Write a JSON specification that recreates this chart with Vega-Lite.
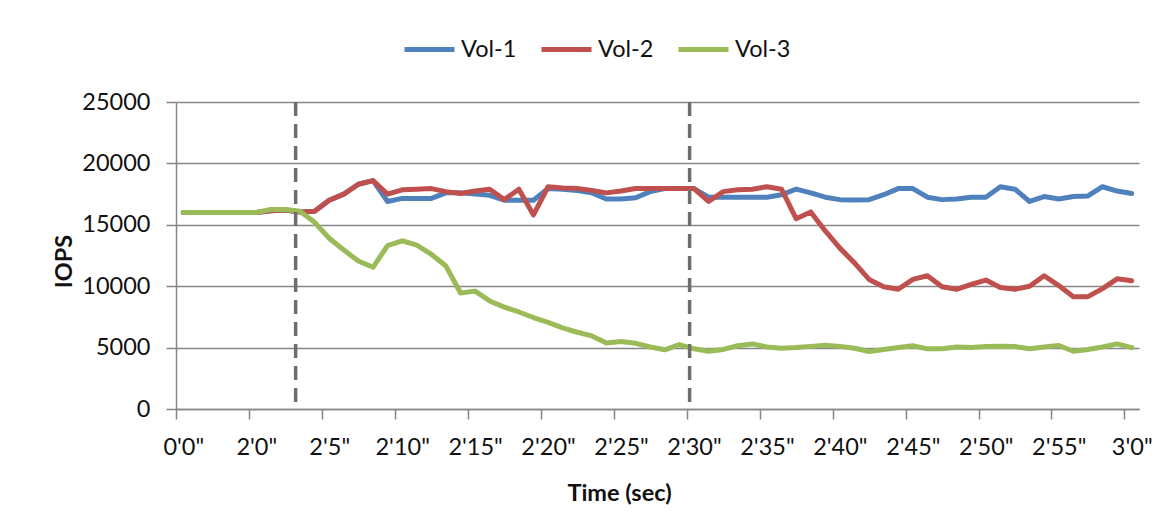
{
  "$schema": "https://vega.github.io/schema/vega-lite/v6.json",
  "autosize": {"type": "none"},
  "width": 963,
  "height": 307,
  "padding": {"left": 176, "top": 102, "right": 33, "bottom": 120},
  "background": "#ffffff",
  "config": {"view": {"stroke": null}, "font": "Lato"},
  "encoding": {
    "x": {
      "field": "i",
      "type": "quantitative",
      "scale": {"domain": [-0.5, 65.5], "nice": false, "zero": false},
      "axis": {
        "values": [-0.5, 4.5, 9.5, 14.5, 19.5, 24.5, 29.5, 34.5, 39.5, 44.5, 49.5, 54.5, 59.5, 64.5],
        "labelExpr": "datum.value < 0 ? \"0'0\" + '\"' : (datum.value > 60 ? \"3'0\" + '\"' : \"2'\" + round(datum.value - 4.5) + '\"')",
        "labelOffset": 7.3,
        "labelFlush": false,
        "labelOverlap": false,
        "labelBound": false,
        "grid": false,
        "tickSize": 10,
        "tickColor": "#868686",
        "tickWidth": 1.5,
        "domainColor": "#868686",
        "domainWidth": 1.5,
        "labelFont": "Lato",
        "labelFontSize": 23.5,
        "labelColor": "#111111",
        "labelPadding": 16,
        "title": "Time (sec)",
        "titleFont": "Lato",
        "titleFontSize": 23.5,
        "titleFontWeight": "bold",
        "titleColor": "#111111",
        "titleX": 443,
        "titleY": 91,
        "titleAlign": "center",
        "titleBaseline": "alphabetic"
      }
    }
  },
  "layer": [
    {
      "data": {
        "values": [
          {"s": "Vol-1", "i": 0, "v": 16000}, {"s": "Vol-1", "i": 1, "v": 16000}, {"s": "Vol-1", "i": 2, "v": 16000}, {"s": "Vol-1", "i": 3, "v": 16000}, {"s": "Vol-1", "i": 4, "v": 16000}, {"s": "Vol-1", "i": 5, "v": 16000},
          {"s": "Vol-1", "i": 6, "v": 16150}, {"s": "Vol-1", "i": 7, "v": 16200}, {"s": "Vol-1", "i": 8, "v": 16050}, {"s": "Vol-1", "i": 9, "v": 16100}, {"s": "Vol-1", "i": 10, "v": 17000}, {"s": "Vol-1", "i": 11, "v": 17500},
          {"s": "Vol-1", "i": 12, "v": 18300}, {"s": "Vol-1", "i": 13, "v": 18600}, {"s": "Vol-1", "i": 14, "v": 16900}, {"s": "Vol-1", "i": 15, "v": 17150}, {"s": "Vol-1", "i": 16, "v": 17150}, {"s": "Vol-1", "i": 17, "v": 17150},
          {"s": "Vol-1", "i": 18, "v": 17600}, {"s": "Vol-1", "i": 19, "v": 17600}, {"s": "Vol-1", "i": 20, "v": 17500}, {"s": "Vol-1", "i": 21, "v": 17400}, {"s": "Vol-1", "i": 22, "v": 17000}, {"s": "Vol-1", "i": 23, "v": 17000},
          {"s": "Vol-1", "i": 24, "v": 17000}, {"s": "Vol-1", "i": 25, "v": 17950}, {"s": "Vol-1", "i": 26, "v": 17900}, {"s": "Vol-1", "i": 27, "v": 17800}, {"s": "Vol-1", "i": 28, "v": 17600}, {"s": "Vol-1", "i": 29, "v": 17100},
          {"s": "Vol-1", "i": 30, "v": 17100}, {"s": "Vol-1", "i": 31, "v": 17200}, {"s": "Vol-1", "i": 32, "v": 17700}, {"s": "Vol-1", "i": 33, "v": 17950}, {"s": "Vol-1", "i": 34, "v": 17950}, {"s": "Vol-1", "i": 35, "v": 17950},
          {"s": "Vol-1", "i": 36, "v": 17250}, {"s": "Vol-1", "i": 37, "v": 17250}, {"s": "Vol-1", "i": 38, "v": 17250}, {"s": "Vol-1", "i": 39, "v": 17250}, {"s": "Vol-1", "i": 40, "v": 17250}, {"s": "Vol-1", "i": 41, "v": 17450},
          {"s": "Vol-1", "i": 42, "v": 17900}, {"s": "Vol-1", "i": 43, "v": 17600}, {"s": "Vol-1", "i": 44, "v": 17250}, {"s": "Vol-1", "i": 45, "v": 17050}, {"s": "Vol-1", "i": 46, "v": 17020}, {"s": "Vol-1", "i": 47, "v": 17050},
          {"s": "Vol-1", "i": 48, "v": 17450}, {"s": "Vol-1", "i": 49, "v": 17950}, {"s": "Vol-1", "i": 50, "v": 17950}, {"s": "Vol-1", "i": 51, "v": 17250}, {"s": "Vol-1", "i": 52, "v": 17050}, {"s": "Vol-1", "i": 53, "v": 17100},
          {"s": "Vol-1", "i": 54, "v": 17250}, {"s": "Vol-1", "i": 55, "v": 17250}, {"s": "Vol-1", "i": 56, "v": 18100}, {"s": "Vol-1", "i": 57, "v": 17900}, {"s": "Vol-1", "i": 58, "v": 16900}, {"s": "Vol-1", "i": 59, "v": 17300},
          {"s": "Vol-1", "i": 60, "v": 17100}, {"s": "Vol-1", "i": 61, "v": 17300}, {"s": "Vol-1", "i": 62, "v": 17350}, {"s": "Vol-1", "i": 63, "v": 18100}, {"s": "Vol-1", "i": 64, "v": 17750}, {"s": "Vol-1", "i": 65, "v": 17550},

          {"s": "Vol-2", "i": 0, "v": 16000}, {"s": "Vol-2", "i": 1, "v": 16000}, {"s": "Vol-2", "i": 2, "v": 16000}, {"s": "Vol-2", "i": 3, "v": 16000}, {"s": "Vol-2", "i": 4, "v": 16000}, {"s": "Vol-2", "i": 5, "v": 16000},
          {"s": "Vol-2", "i": 6, "v": 16150}, {"s": "Vol-2", "i": 7, "v": 16200}, {"s": "Vol-2", "i": 8, "v": 16050}, {"s": "Vol-2", "i": 9, "v": 16100}, {"s": "Vol-2", "i": 10, "v": 17000}, {"s": "Vol-2", "i": 11, "v": 17500},
          {"s": "Vol-2", "i": 12, "v": 18300}, {"s": "Vol-2", "i": 13, "v": 18600}, {"s": "Vol-2", "i": 14, "v": 17500}, {"s": "Vol-2", "i": 15, "v": 17850}, {"s": "Vol-2", "i": 16, "v": 17900}, {"s": "Vol-2", "i": 17, "v": 17950},
          {"s": "Vol-2", "i": 18, "v": 17700}, {"s": "Vol-2", "i": 19, "v": 17550}, {"s": "Vol-2", "i": 20, "v": 17750}, {"s": "Vol-2", "i": 21, "v": 17900}, {"s": "Vol-2", "i": 22, "v": 17050}, {"s": "Vol-2", "i": 23, "v": 17900},
          {"s": "Vol-2", "i": 24, "v": 15800}, {"s": "Vol-2", "i": 25, "v": 18100}, {"s": "Vol-2", "i": 26, "v": 18000}, {"s": "Vol-2", "i": 27, "v": 17950}, {"s": "Vol-2", "i": 28, "v": 17800}, {"s": "Vol-2", "i": 29, "v": 17600},
          {"s": "Vol-2", "i": 30, "v": 17750}, {"s": "Vol-2", "i": 31, "v": 17950}, {"s": "Vol-2", "i": 32, "v": 17950}, {"s": "Vol-2", "i": 33, "v": 17950}, {"s": "Vol-2", "i": 34, "v": 17950}, {"s": "Vol-2", "i": 35, "v": 17950},
          {"s": "Vol-2", "i": 36, "v": 16900}, {"s": "Vol-2", "i": 37, "v": 17700}, {"s": "Vol-2", "i": 38, "v": 17850}, {"s": "Vol-2", "i": 39, "v": 17900}, {"s": "Vol-2", "i": 40, "v": 18100}, {"s": "Vol-2", "i": 41, "v": 17900},
          {"s": "Vol-2", "i": 42, "v": 15500}, {"s": "Vol-2", "i": 43, "v": 16050}, {"s": "Vol-2", "i": 44, "v": 14500}, {"s": "Vol-2", "i": 45, "v": 13100}, {"s": "Vol-2", "i": 46, "v": 11900}, {"s": "Vol-2", "i": 47, "v": 10550},
          {"s": "Vol-2", "i": 48, "v": 9950}, {"s": "Vol-2", "i": 49, "v": 9750}, {"s": "Vol-2", "i": 50, "v": 10550}, {"s": "Vol-2", "i": 51, "v": 10850}, {"s": "Vol-2", "i": 52, "v": 9950}, {"s": "Vol-2", "i": 53, "v": 9750},
          {"s": "Vol-2", "i": 54, "v": 10150}, {"s": "Vol-2", "i": 55, "v": 10500}, {"s": "Vol-2", "i": 56, "v": 9900}, {"s": "Vol-2", "i": 57, "v": 9750}, {"s": "Vol-2", "i": 58, "v": 10000}, {"s": "Vol-2", "i": 59, "v": 10850},
          {"s": "Vol-2", "i": 60, "v": 10050}, {"s": "Vol-2", "i": 61, "v": 9150}, {"s": "Vol-2", "i": 62, "v": 9150}, {"s": "Vol-2", "i": 63, "v": 9800}, {"s": "Vol-2", "i": 64, "v": 10600}, {"s": "Vol-2", "i": 65, "v": 10450},

          {"s": "Vol-3", "i": 0, "v": 16000}, {"s": "Vol-3", "i": 1, "v": 16000}, {"s": "Vol-3", "i": 2, "v": 16000}, {"s": "Vol-3", "i": 3, "v": 16000}, {"s": "Vol-3", "i": 4, "v": 16000}, {"s": "Vol-3", "i": 5, "v": 16000},
          {"s": "Vol-3", "i": 6, "v": 16250}, {"s": "Vol-3", "i": 7, "v": 16250}, {"s": "Vol-3", "i": 8, "v": 16100}, {"s": "Vol-3", "i": 9, "v": 15200}, {"s": "Vol-3", "i": 10, "v": 13900}, {"s": "Vol-3", "i": 11, "v": 12950},
          {"s": "Vol-3", "i": 12, "v": 12050}, {"s": "Vol-3", "i": 13, "v": 11540}, {"s": "Vol-3", "i": 14, "v": 13300}, {"s": "Vol-3", "i": 15, "v": 13700}, {"s": "Vol-3", "i": 16, "v": 13350}, {"s": "Vol-3", "i": 17, "v": 12600},
          {"s": "Vol-3", "i": 18, "v": 11650}, {"s": "Vol-3", "i": 19, "v": 9450}, {"s": "Vol-3", "i": 20, "v": 9600}, {"s": "Vol-3", "i": 21, "v": 8800}, {"s": "Vol-3", "i": 22, "v": 8300}, {"s": "Vol-3", "i": 23, "v": 7900},
          {"s": "Vol-3", "i": 24, "v": 7450}, {"s": "Vol-3", "i": 25, "v": 7050}, {"s": "Vol-3", "i": 26, "v": 6600}, {"s": "Vol-3", "i": 27, "v": 6250}, {"s": "Vol-3", "i": 28, "v": 5950}, {"s": "Vol-3", "i": 29, "v": 5370},
          {"s": "Vol-3", "i": 30, "v": 5500}, {"s": "Vol-3", "i": 31, "v": 5350}, {"s": "Vol-3", "i": 32, "v": 5050}, {"s": "Vol-3", "i": 33, "v": 4820}, {"s": "Vol-3", "i": 34, "v": 5250}, {"s": "Vol-3", "i": 35, "v": 4900},
          {"s": "Vol-3", "i": 36, "v": 4700}, {"s": "Vol-3", "i": 37, "v": 4850}, {"s": "Vol-3", "i": 38, "v": 5150}, {"s": "Vol-3", "i": 39, "v": 5300}, {"s": "Vol-3", "i": 40, "v": 5050}, {"s": "Vol-3", "i": 41, "v": 4950},
          {"s": "Vol-3", "i": 42, "v": 5000}, {"s": "Vol-3", "i": 43, "v": 5100}, {"s": "Vol-3", "i": 44, "v": 5200}, {"s": "Vol-3", "i": 45, "v": 5100}, {"s": "Vol-3", "i": 46, "v": 4950}, {"s": "Vol-3", "i": 47, "v": 4680},
          {"s": "Vol-3", "i": 48, "v": 4850}, {"s": "Vol-3", "i": 49, "v": 5000}, {"s": "Vol-3", "i": 50, "v": 5150}, {"s": "Vol-3", "i": 51, "v": 4900}, {"s": "Vol-3", "i": 52, "v": 4900}, {"s": "Vol-3", "i": 53, "v": 5050},
          {"s": "Vol-3", "i": 54, "v": 5000}, {"s": "Vol-3", "i": 55, "v": 5080}, {"s": "Vol-3", "i": 56, "v": 5100}, {"s": "Vol-3", "i": 57, "v": 5090}, {"s": "Vol-3", "i": 58, "v": 4900}, {"s": "Vol-3", "i": 59, "v": 5050},
          {"s": "Vol-3", "i": 60, "v": 5170}, {"s": "Vol-3", "i": 61, "v": 4700}, {"s": "Vol-3", "i": 62, "v": 4850}, {"s": "Vol-3", "i": 63, "v": 5050}, {"s": "Vol-3", "i": 64, "v": 5300}, {"s": "Vol-3", "i": 65, "v": 5000}
        ]
      },
      "mark": {"type": "line", "strokeWidth": 5, "strokeJoin": "round", "strokeCap": "round"},
      "encoding": {
        "y": {
          "field": "v",
          "type": "quantitative",
          "scale": {"domain": [0, 25000], "nice": false},
          "axis": {
            "values": [0, 5000, 10000, 15000, 20000, 25000],
            "format": "d",
            "grid": true,
            "gridColor": "#868686",
            "gridWidth": 1.5,
            "tickSize": 10,
            "tickColor": "#868686",
            "tickWidth": 1.5,
            "domainColor": "#868686",
            "domainWidth": 1.5,
            "labelFont": "Lato",
            "labelFontSize": 23.5,
            "labelColor": "#111111",
            "labelPadding": 16,
            "title": "IOPS",
            "titleFont": "Lato",
            "titleFontSize": 23.5,
            "titleFontWeight": "bold",
            "titleColor": "#111111",
            "titleAngle": -90,
            "titleX": -105,
            "titleY": 159,
            "titleAlign": "center",
            "titleBaseline": "alphabetic"
          }
        },
        "color": {
          "field": "s",
          "type": "nominal",
          "scale": {"domain": ["Vol-1", "Vol-2", "Vol-3"], "range": ["#4F81BD", "#C0504D", "#9BBB59"]},
          "legend": {
            "orient": "none",
            "legendX": 226,
            "legendY": -80,
            "direction": "horizontal",
            "title": null,
            "padding": 0,
            "symbolType": "stroke",
            "symbolSize": 2500,
            "symbolStrokeWidth": 5,
            "labelFont": "Lato",
            "labelFontSize": 23.5,
            "labelColor": "#111111",
            "labelOffset": 4,
            "columnPadding": 14
          }
        }
      }
    },
    {
      "data": {"values": [{"i": 7.7}, {"i": 34.7}]},
      "mark": {"type": "rule", "strokeDash": [14, 8], "strokeWidth": 3.5, "color": "#6e6e6e"},
      "encoding": {
        "y": {"datum": 25000},
        "y2": {"datum": 0}
      }
    }
  ]
}
